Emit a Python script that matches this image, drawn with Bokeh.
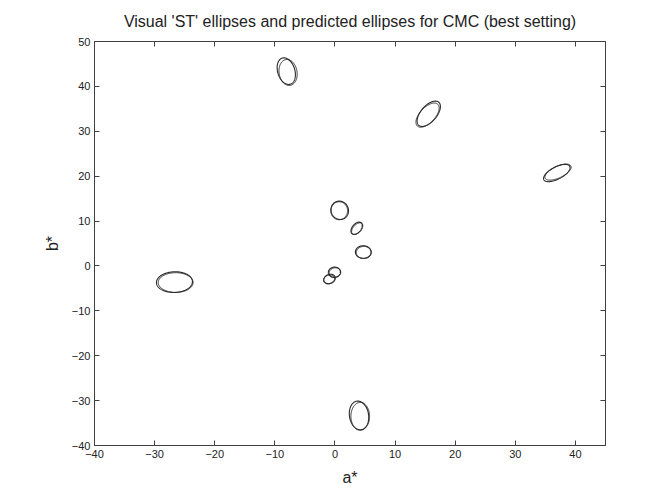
import numpy as np
from bokeh.plotting import figure
from bokeh.models import Range1d, LinearAxis, FixedTicker, CustomJSTickFormatter
from bokeh.embed import file_html
from bokeh.resources import INLINE

# Colour centres and ellipse parameters (CIELAB units, orientation in degrees from the a* axis)
# Visual 'ST' ellipses
vis_a = [-26.7, -8.1, 15.6, 36.9, 0.8, 3.6, 4.7, -0.1, -0.9, 4.0]
vis_b = [-3.6, 43.4, 33.9, 20.7, 12.4, 8.4, 3.1, -1.4, -2.9, -33.3]
vis_major = [3.0, 3.0, 3.1, 2.65, 2.05, 1.47, 1.4, 1.15, 1.1, 3.2]
vis_minor = [2.3, 1.45, 1.45, 1.25, 1.45, 0.78, 1.3, 1.0, 0.9, 1.6]
vis_angle = [5, 100, 62, 39, 95, 65, 90, 80, 60, 95]

# CMC predicted ellipses
pred_a = [-26.5, -7.8, 15.4, 37.1, 0.7, 3.7, 4.8, 0.0, -1.0, 4.2]
pred_b = [-3.7, 43.1, 33.6, 20.9, 12.3, 8.3, 3.0, -1.5, -3.0, -33.5]
pred_major = [2.9, 2.9, 3.0, 2.55, 2.0, 1.42, 1.35, 1.1, 1.05, 3.1]
pred_minor = [2.2, 1.5, 1.4, 1.2, 1.4, 0.74, 1.25, 0.95, 0.85, 1.55]
pred_angle = [0, 95, 60, 36, 90, 62, 85, 75, 55, 90]

x_ticks = [-40, -30, -20, -10, 0, 10, 20, 30, 40]
y_ticks = [-40, -30, -20, -10, 0, 10, 20, 30, 40, 50]


def outline(ca, cb, major, minor, angle, n=181):
    t = np.linspace(0, 2 * np.pi, n)
    th = np.deg2rad(angle)
    xs = ca + major * np.cos(t) * np.cos(th) - minor * np.sin(t) * np.sin(th)
    ys = cb + major * np.cos(t) * np.sin(th) + minor * np.sin(t) * np.cos(th)
    return list(xs), list(ys)


FONT = "Liberation Sans"
AX = "#404040"
TXT = "#222222"

p = figure(width=659, height=493, output_backend="svg", toolbar_location=None,
           x_range=Range1d(-40, 45), y_range=Range1d(-40, 50),
           min_border_left=94, min_border_right=54, min_border_top=41, min_border_bottom=48,
           x_axis_label="a*", y_axis_label="b*")

p.title.text = "Visual 'ST' ellipses and predicted ellipses for CMC (best setting)"
p.title.align = "center"
p.title.vertical_align = "top"
p.title.text_font = FONT
p.title.text_font_size = "16px"
p.title.text_font_style = "normal"
p.title.text_color = TXT
p.title.standoff = 20

p.xgrid.visible = False
p.ygrid.visible = False
p.outline_line_color = AX
p.outline_line_alpha = 1.0
p.background_fill_color = "white"
p.border_fill_color = "white"

for ax, ticks in ((p.xaxis[0], x_ticks), (p.yaxis[0], y_ticks)):
    ax.ticker = FixedTicker(ticks=ticks)
    ax.minor_tick_line_color = None
    ax.major_tick_in = 5
    ax.major_tick_out = 0
    ax.major_tick_line_color = AX
    ax.axis_line_color = AX
    ax.major_label_text_font = FONT
    ax.major_label_text_font_size = "11px"
    ax.major_label_text_color = TXT
    ax.major_label_standoff = 4
    ax.axis_label_text_font = FONT
    ax.axis_label_text_font_size = "16px"
    ax.axis_label_text_font_style = "normal"
    ax.axis_label_text_color = TXT
p.xaxis[0].axis_label_standoff = 8
p.yaxis[0].axis_label_standoff = 8

# box ticks on the top and right edges, without labels
blank = CustomJSTickFormatter(code="return ''")
for loc, ticks in (("above", x_ticks), ("right", y_ticks)):
    extra = LinearAxis(ticker=FixedTicker(ticks=ticks), formatter=blank,
                       major_label_standoff=0, major_tick_in=5, major_tick_out=0,
                       minor_tick_line_color=None, major_tick_line_color=AX, axis_line_color=AX)
    p.add_layout(extra, loc)

vx, vy, px, py = [], [], [], []
for i in range(len(vis_a)):
    xs, ys = outline(vis_a[i], vis_b[i], vis_major[i], vis_minor[i], vis_angle[i])
    vx.append(xs); vy.append(ys)
    xs, ys = outline(pred_a[i], pred_b[i], pred_major[i], pred_minor[i], pred_angle[i])
    px.append(xs); py.append(ys)

p.multi_line(vx, vy, line_color="#2b2b2b", line_width=1.1)
p.multi_line(px, py, line_color="#2b2b2b", line_width=1.0)

open("out.html", "w").write(file_html(p, INLINE))
